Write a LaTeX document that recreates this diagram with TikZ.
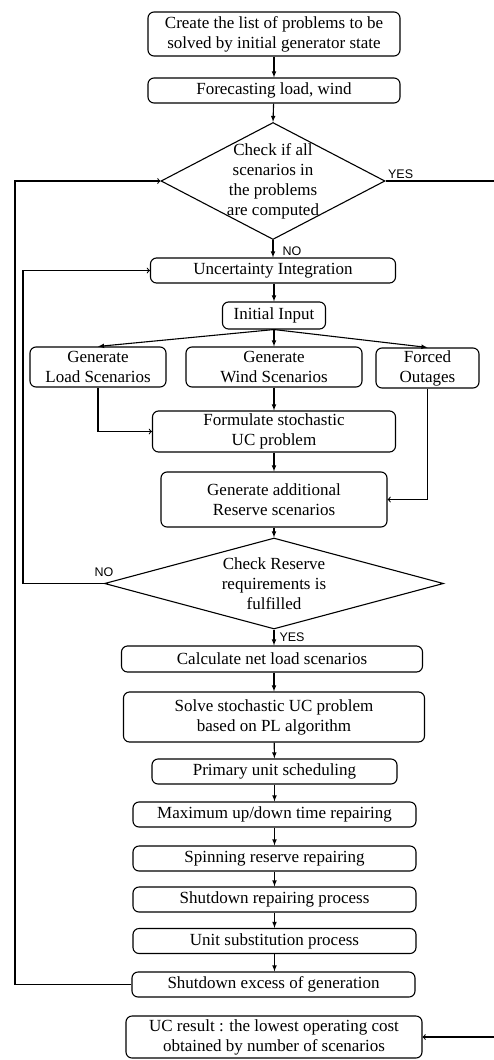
\documentclass[tikz,border=0pt]{standalone}
\usepackage{fontspec}
\setmainfont{Liberation Serif}
\newfontfamily\answerfont{Liberation Sans}
\usepackage{tikz}
\usetikzlibrary{shapes.geometric}
\usetikzlibrary{arrows}
\tikzset{
  procbox/.style={draw, line width=1.1pt, rounded corners=6pt, align=center, inner sep=2pt},
  decision/.style={diamond, draw, line width=1.1pt, inner sep=0pt},
  flow/.style={line width=1.1pt, -latex},
  back/.style={line width=1.1pt, ->},
  answer/.style={font=\answerfont\fontsize{12.5}{14}\selectfont, inner sep=2pt}
}
\begin{document}
\begin{tikzpicture}[x=1pt, y=-1pt, font=\fontsize{17}{20}\selectfont]
    \useasboundingbox (0,0) rectangle (493,1060);
    % Preparation
    \node[procbox, minimum width=252, minimum height=44] (create) at (274,34)
    {Create the list of problems to be\\solved by initial generator state};
    \node[procbox, minimum width=252, minimum height=25] (forecast) at (274,90.5) {Forecasting load, wind};
    \node[decision, minimum width=224, minimum height=117,
    label={[align=center]center:Check if all\\scenarios in\\the problems\\are computed}] (chkall) at (273,181) {};
    \node[procbox, minimum width=245, minimum height=25] (uncert) at (273,270.5) {Uncertainty Integration};
    \node[procbox, minimum width=103, minimum height=27] (initin) at (274,315.5) {Initial Input};
    % Scenarios
    \node[procbox, minimum width=136, minimum height=40] (genload) at (98,367) {Generate\\Load Scenarios};
    \node[procbox, minimum width=176, minimum height=40] (genwind) at (274,367) {Generate\\Wind Scenarios};
    \node[procbox, minimum width=103, minimum height=40] (forced) at (427.5,368) {Forced\\Outages};
    \node[procbox, minimum width=243, minimum height=41] (formul) at (274,431.5) {Formulate stochastic\\UC problem};
    \node[procbox, minimum width=226, minimum height=55] (genres) at (274,499.5) {Generate additional\\Reserve scenarios};
    \node[decision, minimum width=339, minimum height=91,
    label={[align=center]center:Check Reserve\\requirements is\\fulfilled}] (chkres) at (274,583.5) {};
    % Solving
    \node[procbox, minimum width=301, minimum height=26] (calc) at (272,659) {Calculate net load scenarios};
    \node[procbox, minimum width=301, minimum height=50] (solve) at (274,717)
    {Solve stochastic UC problem\\based on PL algorithm};
    \node[procbox, minimum width=245, minimum height=25] (primary) at (274.5,771.5) {Primary unit scheduling};
    \node[procbox, minimum width=283, minimum height=25] (maxup) at (274.5,814.5) {Maximum up/down time repairing};
    \node[procbox, minimum width=283, minimum height=25] (spin) at (274.5,858.5) {Spinning reserve repairing};
    \node[procbox, minimum width=283, minimum height=25] (shutrep) at (274.5,899.5) {Shutdown repairing process};
    \node[procbox, minimum width=283, minimum height=25] (unitsub) at (274.5,941) {Unit substitution process};
    \node[procbox, minimum width=283, minimum height=25] (shutex) at (273.5,984.5) {Shutdown excess of generation};
    \node[procbox, minimum width=296, minimum height=42] (ucres) at (274,1037)
    {UC result : the lowest operating cost\\obtained by number of scenarios};
    % Loop corners
    \coordinate (lout) at (15,984.5);
    \coordinate (lin) at (23,583.5);
    \coordinate (rout) at (500,181);
    % Main flow
    \draw[flow] (create) -- (forecast);
    \draw[flow] (forecast) -- (chkall.north);
    \draw[flow] (chkall.south) -- node[answer, right, xshift=7pt, yshift=-2pt] {NO} (chkall.south |- uncert.north);
    \draw[flow] (uncert.south -| initin) -- (initin);
    \draw[flow] (initin.south) -- (genload.north);
    \draw[flow] (initin.south) -- (genwind.north);
    \draw[flow] (initin.south) -- (forced.north);
    \draw[back] (genload.south) |- (formul.west);
    \draw[flow] (genwind) -- (formul);
    \draw[back] (forced.south) |- (genres.east);
    \draw[flow] (formul) -- (genres);
    \draw[flow] (genres) -- (chkres.north);
    \draw[flow] (chkres.south) -- node[answer, right, xshift=3pt] {YES} (chkres.south |- calc.north);
    \draw[flow] (calc.south -| solve) -- (solve);
    \draw[flow] (solve) -- (primary);
    \draw[flow] (primary) -- (maxup);
    \draw[flow] (maxup) -- (spin);
    \draw[flow] (spin) -- (shutrep);
    \draw[flow] (shutrep) -- (unitsub);
    \draw[flow] (unitsub) -- (shutex.north -| unitsub);
    % Loops
    \draw[back] (chkres.west) -- node[answer, above, pos=0, yshift=4pt] {NO} (lin) |- (uncert.west);
    \draw[back] (shutex.west) -- (lout) |- (chkall.west);
    \draw[back] (chkall.east) -- node[answer, above right, pos=0] {YES} (rout) |- (ucres.east);
\end{tikzpicture}
\end{document}
